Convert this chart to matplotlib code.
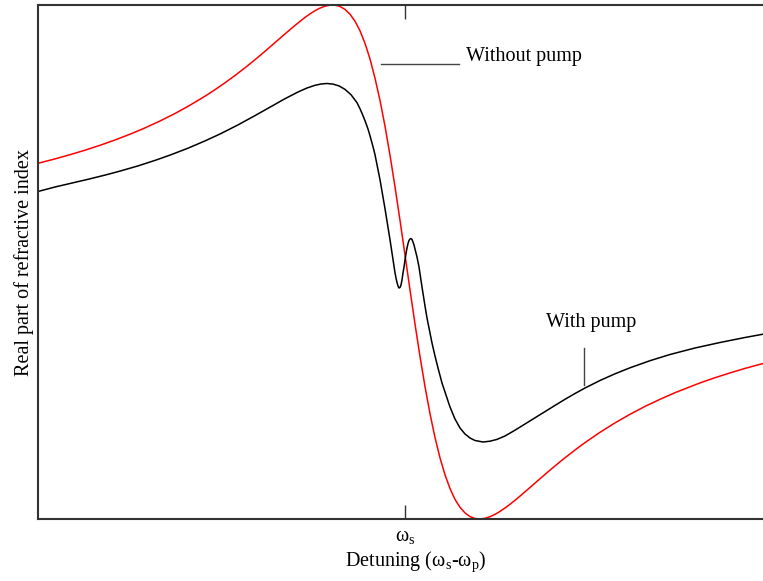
"""Refractive index dispersion with and without pump."""

import matplotlib

matplotlib.use("Agg")

import matplotlib.pyplot as plt

plt.rcParams["font.family"] = ["Liberation Serif", "DejaVu Serif"]
plt.rcParams["mathtext.fontset"] = "custom"
plt.rcParams["mathtext.rm"] = "Liberation Serif"
plt.rcParams["mathtext.it"] = "Liberation Serif"

# detuning (arbitrary units, 0 = omega_s) and real part of n (arbitrary units)
detuning_red = [
    -367, -350, -335, -320, -305, -290, -275, -260, -245, -230, -215, -200,
    -190, -180, -170, -160, -150, -140, -130, -120, -110, -100, -95, -90, -85,
    -80, -75, -72, -70, -65, -60, -55, -50, -45, -40, -35, -30, -25, -20, -15,
    -10, -5, 0, 5, 10, 15, 20, 25, 30, 35, 40, 45, 50, 55, 60, 65, 70, 75, 80,
    85, 90, 95, 100, 105, 110, 115, 125, 130, 140, 145, 155, 160, 170, 180,
    195, 210, 225, 240, 255, 270, 295, 310, 325, 340, 358,
]
n_without_pump = [
    355.7, 360.1, 364.3, 368.8, 373.7, 379.0, 384.8, 391.1, 398.0, 405.5,
    413.8, 422.8, 429.3, 436.2, 443.5, 451.2, 459.3, 467.7, 476.4, 485.1,
    493.6, 501.6, 505.1, 508.3, 510.9, 512.8, 513.9, 514.0, 513.9, 512.5,
    509.6, 504.8, 497.8, 488.2, 475.7, 460.1, 440.8, 418.6, 392.8, 363.8,
    332.2, 298.7, 264.0, 229.1, 195.0, 162.5, 132.4, 105.3, 81.5, 61.1, 44.2,
    30.5, 19.6, 11.7, 6.1, 2.4, 0.5, 0.0, 0.7, 2.3, 4.6, 7.6, 11.0, 14.7,
    18.7, 22.9, 31.5, 35.9, 44.6, 48.9, 57.2, 61.2, 69.0, 76.4, 86.7, 96.1,
    104.7, 112.6, 119.7, 126.3, 136.1, 141.3, 146.1, 150.6, 155.5,
]

detuning_black = [
    -367, -350, -335, -317, -300, -285, -267, -250, -235, -217, -200, -185,
    -167, -150, -134, -120, -107, -98, -90, -84, -78, -72, -66, -60, -54, -51,
    -48, -45, -42, -40, -37, -35, -32, -30, -27, -25, -22, -20, -17, -15, -12,
    -10, -9, -8, -7, -6, -5, -4, -3, -2, -1, 0, 1, 2, 3, 4, 5, 6, 7, 8, 9, 10,
    12, 14, 17, 20, 22, 25, 27, 30, 33, 37, 40, 45, 50, 55, 60, 65, 70, 78,
    85, 92, 100, 110, 120, 130, 140, 150, 160, 170, 180, 195, 210, 225, 245,
    265, 290, 315, 340, 358,
]
n_with_pump = [
    327.5, 332.0, 335.5, 339.7, 343.9, 347.9, 353.1, 358.6, 363.9, 370.8,
    378.1, 385.0, 394.1, 403.4, 412.4, 420.3, 427.0, 431.0, 433.7, 435.0,
    435.5, 434.9, 433.1, 429.6, 424.3, 420.3, 416.3, 410.3, 403.3, 398.3,
    390.0, 383.3, 372.3, 364.3, 349.3, 339.3, 321.9, 310.3, 291.7, 279.3,
    259.5, 246.3, 241.0, 236.5, 233.0, 231.0, 231.5, 234.0, 239.0, 246.0,
    252.0, 259.0, 265.5, 271.0, 275.5, 278.5, 280.0, 280.5, 279.5, 277.0,
    274.0, 270.0, 262.0, 252.0, 232.0, 213.0, 201.0, 186.0, 176.0, 163.0,
    151.0, 136.0, 127.0, 112.0, 100.0, 91.0, 85.0, 81.0, 78.5, 77.0, 77.8,
    79.6, 83.0, 88.8, 95.0, 101.2, 107.4, 113.6, 119.7, 125.5, 131.0, 138.5,
    145.2, 151.2, 158.3, 164.5, 171.0, 176.5, 181.5, 184.8,
]

fig = plt.figure(figsize=(7.63, 5.81), dpi=100)
ax = fig.add_axes([38 / 763, 62 / 581, 725 / 763, 514 / 581])

ax.plot(detuning_red, n_without_pump, color="red", linewidth=1.1)
ax.plot(detuning_black, n_with_pump, color="black", linewidth=1.1)

ax.set_xlim(-367, 358)
ax.set_ylim(0, 514)

for side in ("left", "top", "bottom"):
    ax.spines[side].set_color("#333333")
    ax.spines[side].set_linewidth(1.5)
ax.spines["right"].set_visible(False)

ax.set_yticks([])
ax.set_xticks([0])
ax.set_xticklabels([r"ω$_\mathrm{s}$"], fontsize=14.5)
ax.tick_params(axis="x", direction="in", length=10, width=1.0, color="#333333",
               top=True, pad=6)

# labels for the two curves
ax.plot([-24, 54], [455, 455], color="#444444", linewidth=1.0, clip_on=False)
ax.text(61, 463, "Without pump", fontsize=14.5, ha="left", va="center")
ax.plot([179, 179], [171, 134], color="#444444", linewidth=1.0)
ax.text(186, 196, "With pump", fontsize=14.5, ha="center", va="center")

ax.set_ylabel("Real part of refractive index", fontsize=14.5, labelpad=3)
fig.text(416 / 763, 1 - 562 / 581, r"Detuning (ω$_\mathrm{s}$-ω$_\mathrm{p}$)",
         fontsize=14.5, ha="center", va="center")

fig.savefig("out.png", dpi=100, facecolor="white")
